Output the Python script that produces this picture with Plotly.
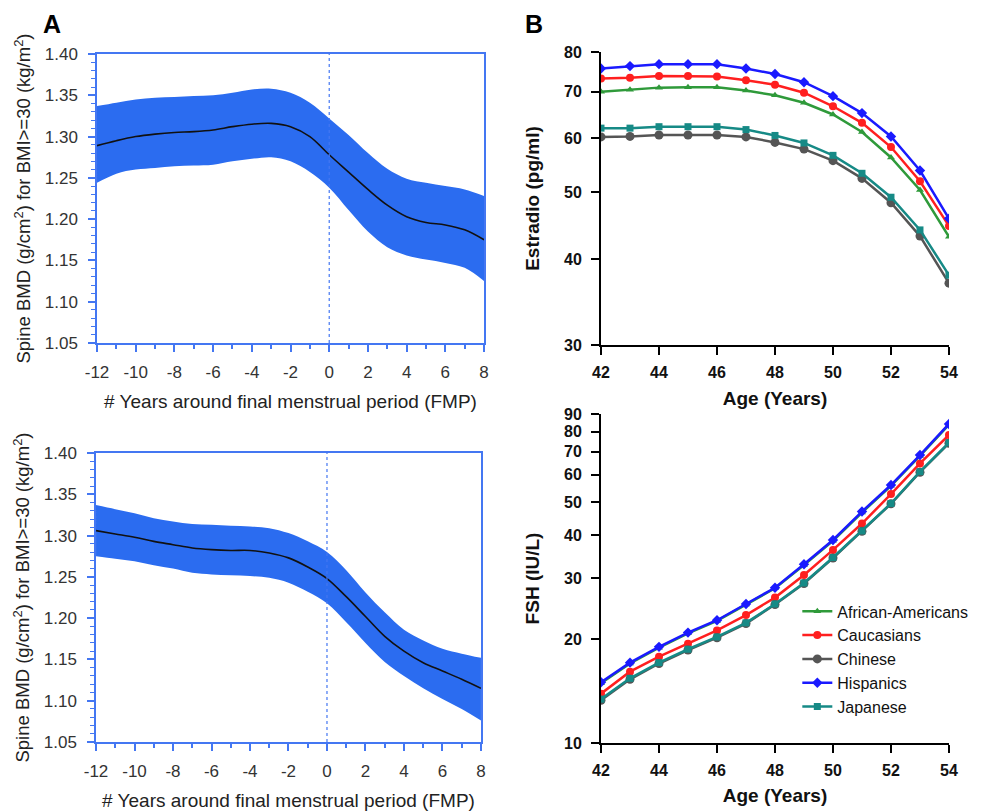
import math
import plotly.graph_objects as go

# ---------------- data ----------------
years = list(range(-12, 9))
year_ticks = [-12, -10, -8, -6, -4, -2, 0, 2, 4, 6, 8]
year_tick_labels = ["-12", "-10", "-8", "-6", "-4", "-2", "0", "2", "4", "6", "8"]

bmd1_center = [1.289, 1.295, 1.300, 1.303, 1.305, 1.306, 1.308, 1.312, 1.315, 1.316, 1.312,
               1.300, 1.278, 1.257, 1.236, 1.217, 1.203, 1.196, 1.193, 1.187, 1.175]
bmd1_upper = [1.337, 1.341, 1.345, 1.347, 1.348, 1.349, 1.350, 1.353, 1.357, 1.358, 1.353,
              1.341, 1.322, 1.302, 1.280, 1.261, 1.249, 1.244, 1.240, 1.236, 1.228]
bmd1_lower = [1.244, 1.255, 1.260, 1.262, 1.264, 1.265, 1.266, 1.270, 1.273, 1.275, 1.270,
              1.257, 1.238, 1.211, 1.185, 1.166, 1.156, 1.151, 1.147, 1.141, 1.125]

bmd2_center = [1.306, 1.302, 1.298, 1.293, 1.289, 1.285, 1.283, 1.282, 1.282, 1.279, 1.273,
               1.262, 1.248, 1.226, 1.202, 1.178, 1.160, 1.146, 1.136, 1.126, 1.115]
bmd2_upper = [1.337, 1.332, 1.327, 1.321, 1.317, 1.314, 1.313, 1.312, 1.311, 1.309, 1.303,
              1.293, 1.280, 1.258, 1.231, 1.207, 1.186, 1.173, 1.163, 1.157, 1.152]
bmd2_lower = [1.275, 1.272, 1.269, 1.264, 1.260, 1.255, 1.253, 1.252, 1.251, 1.249, 1.243,
              1.232, 1.218, 1.195, 1.170, 1.147, 1.130, 1.115, 1.102, 1.090, 1.076]

fmp_year = 0

ages = list(range(42, 55))
groups = ["African-Americans", "Caucasians", "Chinese", "Hispanics", "Japanese"]

estradiol = {
    "African-Americans": [70.0, 70.5, 71.0, 71.1, 71.1, 70.3, 69.2, 67.5, 64.9, 61.2, 56.2, 50.4, 43.1],
    "Caucasians":        [73.2, 73.4, 73.8, 73.8, 73.7, 72.8, 71.7, 69.8, 66.7, 63.1, 58.2, 51.9, 44.7],
    "Chinese":           [60.2, 60.3, 60.6, 60.6, 60.6, 60.2, 59.1, 57.8, 55.6, 52.4, 48.3, 43.2, 36.9],
    "Hispanics":         [75.7, 76.3, 76.8, 76.8, 76.8, 75.7, 74.3, 72.3, 69.0, 65.2, 60.3, 53.8, 45.8],
    "Japanese":          [62.0, 62.0, 62.3, 62.3, 62.3, 61.7, 60.5, 59.0, 56.6, 53.3, 49.2, 44.1, 37.9],
}

fsh = {
    "African-Americans": [14.9, 17.0, 18.9, 20.8, 22.6, 25.2, 28.1, 32.8, 38.6, 46.6, 55.7, 68.0, 83.8],
    "Caucasians":        [13.9, 16.1, 17.8, 19.4, 21.2, 23.5, 26.4, 30.7, 36.3, 43.3, 52.7, 64.7, 78.2],
    "Chinese":           [13.3, 15.3, 17.0, 18.6, 20.2, 22.2, 25.2, 29.0, 34.4, 41.1, 49.4, 61.0, 74.0],
    "Hispanics":         [15.0, 17.1, 19.0, 20.9, 22.7, 25.3, 28.2, 33.0, 38.8, 46.9, 56.0, 68.4, 84.2],
    "Japanese":          [13.4, 15.4, 17.1, 18.7, 20.3, 22.3, 25.3, 29.1, 34.5, 41.2, 49.5, 61.2, 74.3],
}

estradiol_ticks = [30, 40, 50, 60, 70, 80]
fsh_ticks = [10, 20, 30, 40, 50, 60, 70, 80, 90]

# ---------------- styles ----------------
FONT = "Liberation Sans, Arial, sans-serif"
BAND = "#2b6cf0"
AXBLUE = "#4477f2"
colors = {"African-Americans": "#2f9a3a", "Caucasians": "#ff1f1f", "Chinese": "#555555",
          "Hispanics": "#1a1aff", "Japanese": "#168a86"}
symbols = {"African-Americans": "triangle-up", "Caucasians": "circle", "Chinese": "circle",
           "Hispanics": "diamond", "Japanese": "square"}
msize = {"African-Americans": 7, "Caucasians": 8, "Chinese": 9, "Hispanics": 8, "Japanese": 7}

fig = go.Figure()

def add_band(xa, ya, up, lo, ce):
    fig.add_trace(go.Scatter(x=years, y=lo, mode="lines", line=dict(width=0, shape="spline"),
                             xaxis=xa, yaxis=ya, showlegend=False, hoverinfo="skip"))
    fig.add_trace(go.Scatter(x=years, y=up, mode="lines", line=dict(width=0, shape="spline"),
                             fill="tonexty", fillcolor=BAND,
                             xaxis=xa, yaxis=ya, showlegend=False, hoverinfo="skip"))
    fig.add_trace(go.Scatter(x=years, y=ce, mode="lines", line=dict(width=1.6, color="#111111", shape="spline"),
                             xaxis=xa, yaxis=ya, showlegend=False))

add_band("x", "y", bmd1_upper, bmd1_lower, bmd1_center)
add_band("x2", "y2", bmd2_upper, bmd2_lower, bmd2_center)

for g in groups:
    fig.add_trace(go.Scatter(x=ages, y=estradiol[g], mode="lines+markers", name=g,
                             line=dict(color=colors[g], width=2.5),
                             marker=dict(symbol=symbols[g], size=msize[g], color=colors[g]),
                             xaxis="x3", yaxis="y3", showlegend=False))
for g in groups:
    fig.add_trace(go.Scatter(x=ages, y=fsh[g], mode="lines+markers", name=g,
                             line=dict(color=colors[g], width=2.5),
                             marker=dict(symbol=symbols[g], size=msize[g], color=colors[g]),
                             xaxis="x4", yaxis="y4", showlegend=True))

def left_x(domain, anchor, title):
    return dict(domain=domain, anchor=anchor, range=[-12, 8],
                tickmode="array", tickvals=year_ticks, ticktext=year_tick_labels,
                ticks="outside", ticklen=7, tickwidth=1.5, tickcolor=AXBLUE,
                showline=True, linecolor=AXBLUE, linewidth=1.5, mirror=True,
                showgrid=False, zeroline=False, automargin=False,
                minor=dict(dtick=1, tick0=-12, ticks="outside", ticklen=4, tickwidth=1.5, tickcolor=AXBLUE),
                tickfont=dict(family=FONT, size=17, color="#333333"), ticklabelstandoff=6,
                title=dict(text=title, font=dict(family=FONT, size=19, color="#222222"), standoff=14))

def left_y(domain, anchor):
    return dict(domain=domain, anchor=anchor, range=[1.05, 1.40], tick0=1.05, dtick=0.05,
                tickformat=".2f",
                ticks="outside", ticklen=7, tickwidth=1.5, tickcolor=AXBLUE,
                showline=True, linecolor=AXBLUE, linewidth=1.5, mirror=True,
                showgrid=False, zeroline=False, automargin=False,
                minor=dict(dtick=0.01, tick0=1.05, ticks="outside", ticklen=4, tickwidth=1.2, tickcolor=AXBLUE),
                tickfont=dict(family=FONT, size=17, color="#333333"), ticklabelstandoff=7,
                title=dict(text="Spine BMD (g/cm<sup>2</sup>) for BMI>=30 (kg/m<sup>2</sup>)",
                           font=dict(family=FONT, size=18.5, color="#222222"), standoff=9))

def right_x(domain, anchor):
    return dict(domain=domain, anchor=anchor, range=[42, 54], dtick=2,
                ticks="outside", ticklen=8, tickwidth=2, tickcolor="black",
                showline=True, linecolor="black", linewidth=2, mirror=False,
                showgrid=False, zeroline=False, automargin=False,
                tickfont=dict(family=FONT, size=16, color="#111111", weight="bold"), ticklabelstandoff=4,
                title=dict(text="Age (Years)", font=dict(family=FONT, size=19, color="#111111", weight="bold"),
                           standoff=11))

def right_y(domain, anchor, lo, hi, tv, title):
    return dict(domain=domain, anchor=anchor, type="log", range=[math.log10(lo), math.log10(hi)],
                tickvals=tv, ticktext=[str(v) for v in tv],
                ticks="outside", ticklen=8, tickwidth=2, tickcolor="black",
                showline=True, linecolor="black", linewidth=2, mirror=False,
                showgrid=False, zeroline=False, automargin=False,
                tickfont=dict(family=FONT, size=16, color="#111111", weight="bold"), ticklabelstandoff=6,
                title=dict(text=title, font=dict(family=FONT, size=19, color="#111111", weight="bold"),
                           standoff=19))

xt = "# Years around final menstrual period (FMP)"
fig.update_layout(
    width=988, height=812,
    margin=dict(l=0, r=0, t=0, b=0, autoexpand=False),
    paper_bgcolor="white", plot_bgcolor="white",
    xaxis=left_x([0.0982, 0.4899], "y", xt),
    yaxis=left_y([0.5776, 0.9335], "x"),
    xaxis2=left_x([0.0972, 0.4868], "y2", xt),
    yaxis2=left_y([0.0862, 0.4421], "x2"),
    xaxis3=right_x([0.6083, 0.9605], "y3"),
    yaxis3=right_y([0.5751, 0.9360], "x3", 30, 80, estradiol_ticks, "Estradio (pg/ml)"),
    xaxis4=right_x([0.6083, 0.9605], "y4"),
    yaxis4=right_y([0.0850, 0.4902], "x4", 10, 90, fsh_ticks, "FSH (IU/L)"),
    legend=dict(x=0.807, y=0.268, xanchor="left", yanchor="top", bgcolor="rgba(0,0,0,0)",
                font=dict(family=FONT, size=16, color="#111111"), itemwidth=30,
                traceorder="normal", tracegroupgap=0),
    showlegend=True,
    annotations=[
        dict(text="<b>A</b>", x=52 / 988, y=1 - 24 / 812, xref="paper", yref="paper",
             xanchor="center", yanchor="middle",
             showarrow=False, font=dict(family=FONT, size=25, color="black")),
        dict(text="<b>B</b>", x=534 / 988, y=1 - 24 / 812, xref="paper", yref="paper",
             xanchor="center", yanchor="middle",
             showarrow=False, font=dict(family=FONT, size=25, color="black")),
    ],
)

for xa, ya in (("x", "y"), ("x2", "y2")):
    fig.add_shape(type="line", x0=fmp_year, x1=fmp_year, y0=0, y1=1,
                  xref=xa, yref=ya + " domain", line=dict(color=AXBLUE, width=1.2, dash="dot"))

fig.write_html("out.html", config={"displayModeBar": False},
               post_script="document.body.style.margin='0';document.body.style.overflow='hidden';")
